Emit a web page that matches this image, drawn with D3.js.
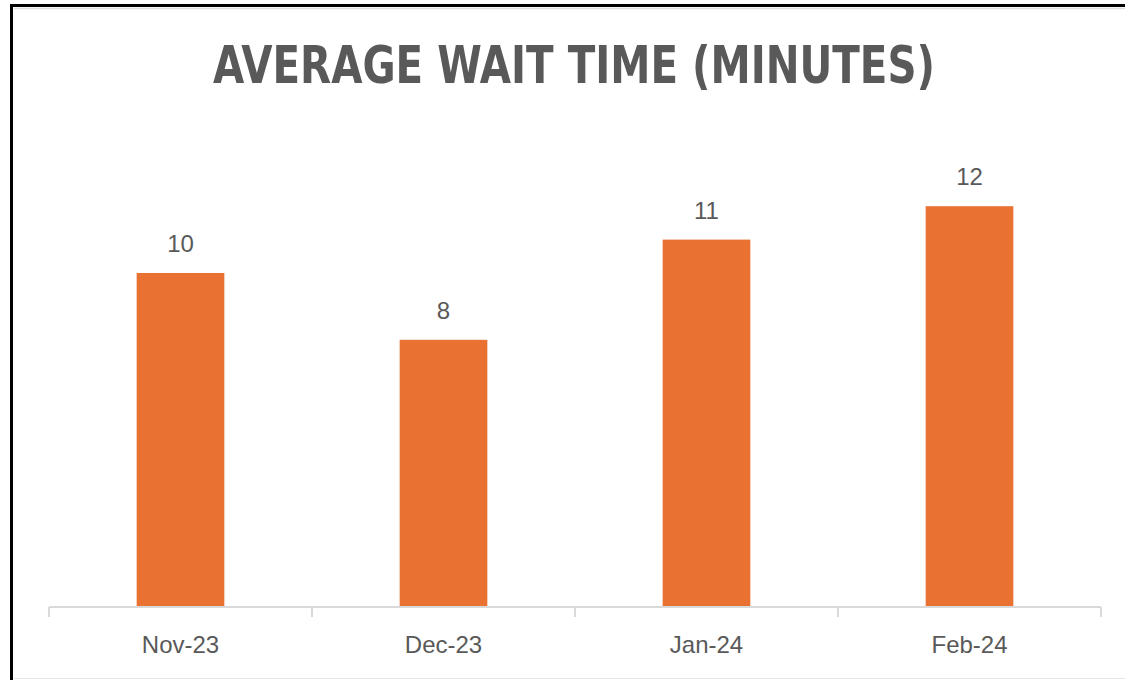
<!DOCTYPE html>
<html><head><meta charset="utf-8">
<script src="https://cdn.jsdelivr.net/npm/d3@7"></script>
<style>html,body{margin:0;padding:0;background:#fff;overflow:hidden}</style>
</head><body>
<svg id="c" width="1125" height="680"></svg>
<script>
const categories = ["Nov-23","Dec-23","Jan-24","Feb-24"];
const values = [10, 8, 11, 12];
const title = "AVERAGE WAIT TIME (MINUTES)";

const svg = d3.select("#c");
// frame
svg.append("rect").attr("x",11.5).attr("y",5.5).attr("width",1125).attr("height",700)
  .attr("fill","#fff").attr("stroke","#000").attr("stroke-width",3);
svg.append("line").attr("x1",14).attr("x2",1125).attr("y1",8.5).attr("y2",8.5).attr("stroke","#e0e0e0").attr("stroke-width",1.5);
svg.append("line").attr("x1",14).attr("x2",1125).attr("y1",678.5).attr("y2",678.5).attr("stroke","#e6e6e6").attr("stroke-width",1);

svg.append("text").attr("x",574).attr("y",83).attr("text-anchor","middle")
  .attr("font-family","DejaVu Sans Condensed, DejaVu Sans").attr("font-weight","bold")
  .attr("font-stretch","condensed")
  .attr("font-size",52).attr("fill","#595959")
  .attr("textLength",722).attr("lengthAdjust","spacingAndGlyphs")
  .text(title);

const x = d3.scaleBand().domain(categories).range([49,1101]).padding(0);
const y = d3.scaleLinear().domain([0,14]).range([607,139.4]);
const bw = x.bandwidth()/3;

svg.selectAll("rect.bar").data(values).enter().append("rect").attr("class","bar")
  .attr("x",(d,i)=>x(categories[i])+x.bandwidth()/2-bw/2)
  .attr("y",d=>y(d)).attr("width",bw).attr("height",d=>y(0)-y(d))
  .attr("fill","#E97132");

svg.selectAll("text.val").data(values).enter().append("text").attr("class","val")
  .attr("x",(d,i)=>x(categories[i])+x.bandwidth()/2)
  .attr("y",d=>y(d)-21).attr("text-anchor","middle")
  .attr("font-family","Liberation Sans, Arial, sans-serif").attr("font-size",24)
  .attr("fill","#595959").text(d=>d);

const ax = svg.append("g").attr("transform","translate(0,607)")
  .call(d3.axisBottom(x).tickSize(0).tickPadding(0));
ax.select(".domain").attr("stroke","#d9d9d9").attr("stroke-width",2).attr("d","M49,0H1101");
ax.selectAll("text").attr("dy",null).attr("y",46)
  .attr("font-family","Liberation Sans, Arial, sans-serif").attr("font-size",24).attr("fill","#595959");
const tickX = categories.map(c=>x(c)).concat([x(categories[3])+x.bandwidth()]);
svg.selectAll("line.tk").data(tickX).enter().append("line").attr("class","tk")
  .attr("x1",d=>d).attr("x2",d=>d).attr("y1",607).attr("y2",617)
  .attr("stroke","#d9d9d9").attr("stroke-width",2);
</script>
</body></html>
